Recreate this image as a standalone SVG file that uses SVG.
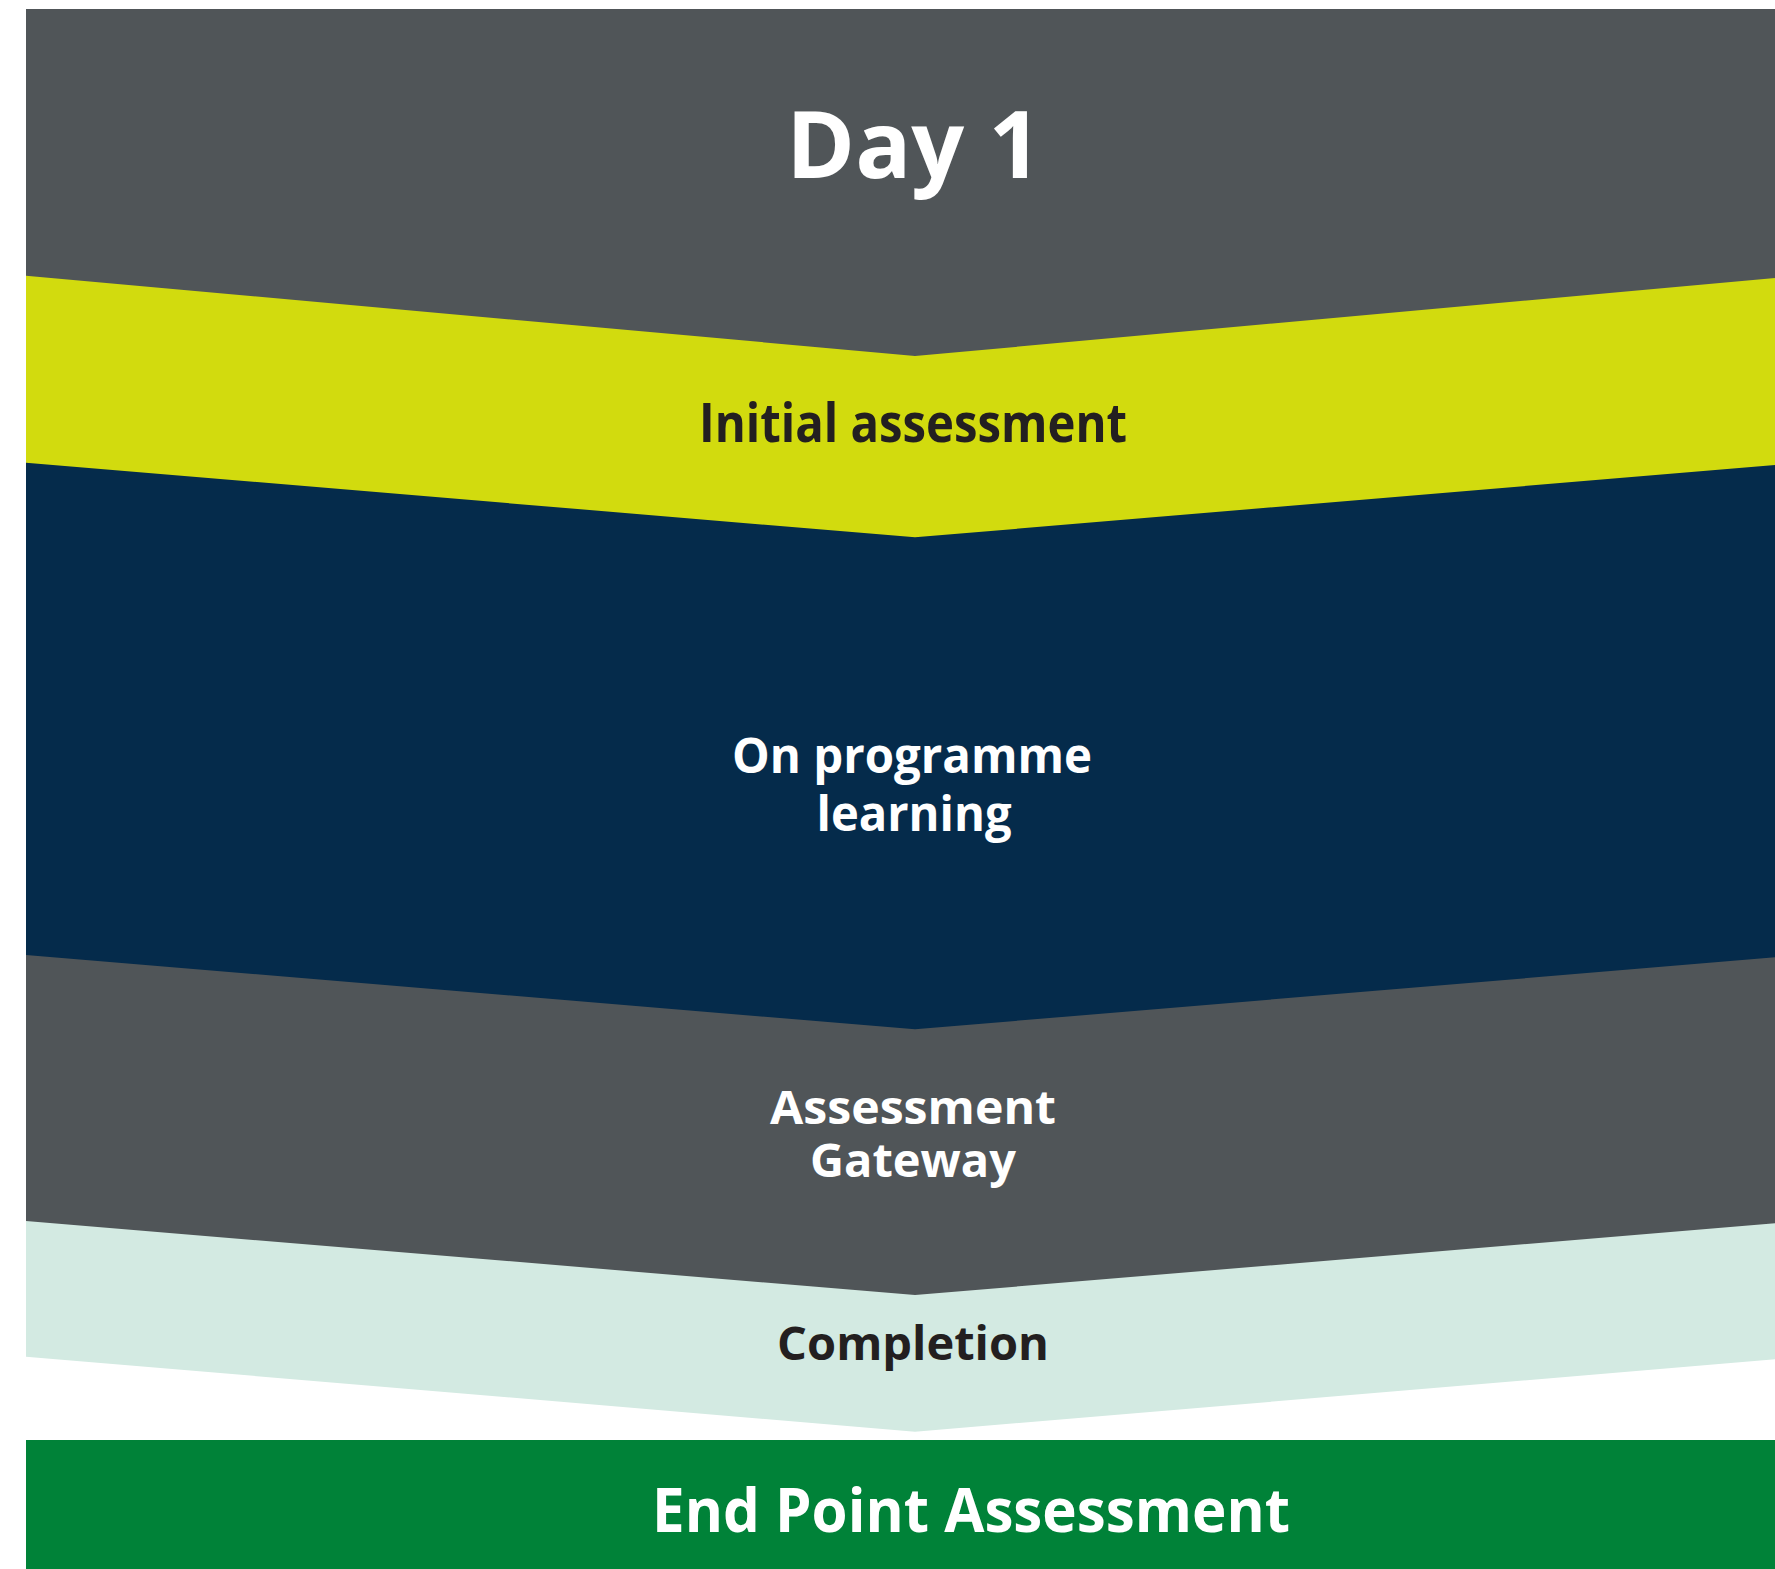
<svg xmlns="http://www.w3.org/2000/svg" width="1775" height="1569" viewBox="0 0 1775 1569">
<style>
.t{font-family:"Open Sans","Noto Sans","Liberation Sans",sans-serif;font-weight:700;text-anchor:middle}
.w{fill:#ffffff}
.d{fill:#231f20}
</style>
<rect x="0" y="0" width="1775" height="1569" fill="#ffffff"/>
<g id="day1">
<polygon points="26,9 1775,9 1775,279 915,357 26,276.7" fill="#505558"/>
<text class="t w" x="914" y="178" font-size="93">Day 1</text>
</g>
<g id="initial-assessment">
<polygon points="26,275.7 915,356 1775,278 1775,466 915,538.3 26,463.7" fill="#d2db0e"/>
<text class="t d" x="913" y="442" font-size="54" textLength="428" lengthAdjust="spacingAndGlyphs">Initial assessment</text>
</g>
<g id="on-programme">
<polygon points="26,462.7 915,537.3 1775,465 1775,958.3 915,1030.3 26,956" fill="#052b4b"/>
<text class="t w" x="912" y="773" font-size="48" textLength="360" lengthAdjust="spacingAndGlyphs">On programme</text>
<text class="t w" x="914" y="831" font-size="48" textLength="195" lengthAdjust="spacingAndGlyphs">learning</text>
</g>
<g id="gateway">
<polygon points="26,955 915,1029.3 1775,957.3 1775,1224.3 915,1296 26,1222" fill="#505558"/>
<text class="t w" x="913" y="1124" font-size="47" textLength="286" lengthAdjust="spacingAndGlyphs">Assessment</text>
<text class="t w" x="913" y="1177" font-size="47">Gateway</text>
</g>
<g id="completion">
<polygon points="26,1221 915,1295 1775,1223.3 1775,1359.3 915,1431.7 26,1356.7" fill="#d3eae2"/>
<text class="t d" x="913" y="1360" font-size="47">Completion</text>
</g>
<g id="epa">
<rect x="26" y="1440" width="1749" height="129" fill="#008238"/>
<text class="t w" x="971" y="1532" font-size="61" textLength="638" lengthAdjust="spacingAndGlyphs">End Point Assessment</text>
</g>
<g id="connectors"/>
</svg>
